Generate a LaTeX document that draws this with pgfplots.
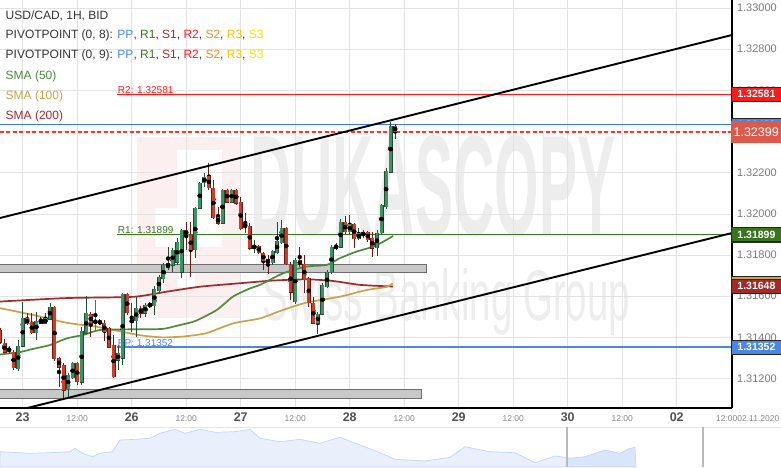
\documentclass[border=0pt]{standalone}
\usepackage{fontspec}
\setmainfont{Liberation Sans}
\usepackage{pgfplots}
\usepackage{pgfplotstable}
\pgfplotsset{compat=1.18}

\definecolor{ppblue}{HTML}{4A86E8}
\definecolor{rone}{HTML}{38761D}
\definecolor{sone}{HTML}{A52A2A}
\definecolor{rtwo}{HTML}{FF1A1A}
\definecolor{stwo}{HTML}{FF8C1A}
\definecolor{rthree}{HTML}{FFC000}
\definecolor{sthree}{HTML}{F2E200}
\definecolor{smaA}{HTML}{4E8A3E}
\definecolor{smaB}{HTML}{C9A24A}
\definecolor{smaC}{HTML}{A12A2A}
\definecolor{txt}{HTML}{333333}
\definecolor{tickc}{HTML}{7A7A7A}
\definecolor{gridc}{HTML}{E3E3E3}
\definecolor{bandfill}{HTML}{C8C8C8}
\definecolor{bandedge}{HTML}{6E6E6E}
\definecolor{cgreen}{HTML}{3F9162}
\definecolor{cred}{HTML}{CC3E2C}
\definecolor{wgreen}{HTML}{1F4D33}
\definecolor{wred}{HTML}{6E1A12}
\definecolor{bidred}{HTML}{DC5A4C}
\definecolor{lineblue}{HTML}{3C78D8}
\definecolor{wmpink}{HTML}{FCEFEF}
\definecolor{wmgray}{HTML}{EDEDED}
\definecolor{navfill}{HTML}{E9F0FC}
\definecolor{navfill2}{HTML}{D9E5FA}
\definecolor{navline}{HTML}{C5D5F3}

% hour index (0 = 23.10 00:00), open, high, low, close
\pgfplotstableread{
h O H L C
-3 1.31334 1.31358 1.31320 1.31348
-1 1.31246 1.31387 1.31237 1.31358
0 1.31358 1.31572 1.31353 1.31494
3 1.31421 1.31523 1.31387 1.31479
5 1.31469 1.31518 1.31465 1.31494
6 1.31489 1.31567 1.31484 1.31548
10 1.31149 1.31227 1.31110 1.31218
11 1.31203 1.31280 1.31198 1.31275
13 1.31183 1.31450 1.31169 1.31431
14 1.31421 1.31601 1.31417 1.31518
21 1.31290 1.31363 1.31242 1.31324
22 1.31300 1.31615 1.31266 1.31611
24 1.31469 1.31567 1.31426 1.31489
25 1.31479 1.31596 1.31402 1.31543
27 1.31518 1.31567 1.31499 1.31558
29 1.31553 1.31650 1.31509 1.31635
30 1.31625 1.31703 1.31620 1.31693
31 1.31684 1.31761 1.31664 1.31752
32 1.31742 1.31839 1.31727 1.31761
33 1.31752 1.31834 1.31717 1.31825
34 1.31766 1.31883 1.31752 1.31863
35 1.31717 1.31927 1.31688 1.31922
38 1.31825 1.32033 1.31786 1.32028
39 1.32028 1.32155 1.32023 1.32150
40 1.32150 1.32198 1.32131 1.32179
44 1.31955 1.32121 1.31950 1.32116
46 1.32057 1.32121 1.32052 1.32116
49 1.31936 1.32004 1.31907 1.31955
51 1.31829 1.31873 1.31810 1.31849
55 1.31761 1.31825 1.31752 1.31820
56 1.31810 1.31960 1.31805 1.31868
57 1.31858 1.31970 1.31853 1.31931
60 1.31572 1.31786 1.31562 1.31776
65 1.31469 1.31523 1.31417 1.31513
66 1.31513 1.31664 1.31509 1.31655
67 1.31645 1.31727 1.31640 1.31717
68 1.31717 1.31849 1.31708 1.31839
69 1.31834 1.31858 1.31825 1.31849
70 1.31839 1.31975 1.31834 1.31960
72 1.31912 1.31994 1.31902 1.31950
74 1.31878 1.31931 1.31873 1.31907
75 1.31893 1.31922 1.31883 1.31912
78 1.31834 1.31922 1.31795 1.31907
79 1.31907 1.32048 1.31902 1.32043
80 1.32033 1.32223 1.32023 1.32208
81 1.32203 1.32446 1.32198 1.32427
}\greentab

\pgfplotstableread{
h O H L C
-5 1.31436 1.31445 1.31368 1.31377
-4 1.31372 1.31392 1.31324 1.31329
-2 1.31329 1.31339 1.31242 1.31251
1 1.31494 1.31518 1.31460 1.31465
2 1.31474 1.31518 1.31417 1.31421
4 1.31484 1.31499 1.31465 1.31469
7 1.31548 1.31553 1.31285 1.31295
8 1.31300 1.31305 1.31159 1.31256
9 1.31266 1.31275 1.31096 1.31144
12 1.31275 1.31280 1.31169 1.31183
15 1.31513 1.31523 1.31402 1.31469
17 1.31479 1.31489 1.31460 1.31469
18 1.31469 1.31484 1.31382 1.31426
19 1.31445 1.31450 1.31348 1.31353
20 1.31363 1.31412 1.31203 1.31208
23 1.31611 1.31615 1.31509 1.31518
26 1.31543 1.31553 1.31494 1.31518
28 1.31567 1.31572 1.31543 1.31548
36 1.31922 1.31960 1.31825 1.31898
37 1.31898 1.31960 1.31693 1.31825
41 1.32184 1.32247 1.32116 1.32126
42 1.32126 1.32165 1.31975 1.31980
43 1.31984 1.32033 1.31945 1.31955
45 1.32116 1.32121 1.32052 1.32057
47 1.32116 1.32121 1.32043 1.32052
48 1.32057 1.32082 1.31922 1.31927
50 1.31941 1.31955 1.31825 1.31834
52 1.31844 1.31849 1.31805 1.31810
53 1.31810 1.31815 1.31727 1.31771
54 1.31781 1.31800 1.31708 1.31761
58 1.31931 1.31936 1.31752 1.31757
59 1.31752 1.31766 1.31582 1.31620
61 1.31776 1.31839 1.31742 1.31752
62 1.31757 1.31800 1.31615 1.31679
63 1.31688 1.31693 1.31548 1.31567
64 1.31567 1.31596 1.31465 1.31469
71 1.31960 1.31989 1.31902 1.31912
73 1.31950 1.31955 1.31834 1.31878
76 1.31912 1.31917 1.31863 1.31873
77 1.31883 1.31912 1.31791 1.31834
82 1.32427 1.32437 1.32364 1.32399
}\redtab

\pgfplotstableread{
h O H L C
16 1.31479 1.31582 1.31436 1.31474
}\dojitab

\newcommand{\candles}[3]{%
  \addplot[only marks, mark=none, forget plot,
    error bars/.cd, y dir=both, y explicit, error mark=none,
    error bar style={draw=#3, line width=0.9pt}]
    table[x=h, y expr={(\thisrow{H}+\thisrow{L})/2}, y error expr={(\thisrow{H}-\thisrow{L})/2}] {#1};
  \addplot[only marks, mark=none, forget plot,
    error bars/.cd, y dir=both, y explicit, error mark=none,
    error bar style={draw=#3, line width=4.0pt}]
    table[x=h, y expr={(\thisrow{O}+\thisrow{C})/2}, y error expr={abs(\thisrow{C}-\thisrow{O})/2+0.000014}] {#1};
  \addplot[only marks, mark=none, forget plot,
    error bars/.cd, y dir=both, y explicit, error mark=none,
    error bar style={draw=#2, line width=2.9pt}]
    table[x=h, y expr={(\thisrow{O}+\thisrow{C})/2}, y error expr={abs(\thisrow{C}-\thisrow{O})/2}] {#1};
}

\newcommand{\dl}[1]{{\fontsize{12.5}{12.5}\selectfont\bfseries\color[HTML]{505050}#1}}
\newcommand{\hl}[1]{{\fontsize{8.5}{9}\selectfont\color[HTML]{888888}#1}}

\tikzset{
  pbox/.style={anchor=west, fill=#1, draw=black!85, line width=0.8pt, text=white,
    font=\fontsize{10.5}{10.5}\selectfont\bfseries, minimum width=50pt, minimum height=14pt,
    inner sep=1pt, xshift=-1pt},
  leg/.style={anchor=west, inner sep=0pt, font=\fontsize{12}{12}\selectfont},
  lvl/.style={anchor=south west, inner sep=0.6pt, font=\fontsize{10}{10}\selectfont}
}

\begin{document}
\begin{tikzpicture}[x=1pt,y=1pt]
\path[use as bounding box] (0,0) rectangle (781,-467);

% watermark
\fill[wmpink] (137,-137) rectangle (240,-318);
\fill[white] (177,-150) rectangle (222,-208);
\fill[white] (155,-208) rectangle (222,-247);
\fill[white] (177,-247) rectangle (195,-287);
\node[anchor=north west, inner sep=0, text=wmgray] at (250,-135) {\resizebox{365pt}{100pt}{\bfseries DUKASCOPY}};
\node[anchor=north west, inner sep=0, text=wmgray] at (262,-268) {\resizebox{368pt}{52pt}{Swiss Banking Group}};

\begin{axis}[
  at={(0pt,0pt)}, anchor=north west, scale only axis,
  width=732pt, height=408pt,
  xmin=-4.998, xmax=156.17, ymin=1.310569, ymax=1.330389,
  axis x line*=bottom, axis y line*=right,
  axis line style={black, line width=1.3pt, -},
  clip mode=individual,
  xtick={0,12,...,156},
  xticklabels={{\dl{23}},{\hl{12:00}},{\dl{26}},{\hl{12:00}},{\dl{27}},{\hl{12:00}},{\dl{28}},{\hl{12:00}},{\dl{29}},{\hl{12:00}},{\dl{30}},{\hl{12:00}},{\dl{02}},{\hl{\hspace*{-9pt}12:00\rlap{02.11.2020}}}},
  xticklabel style={anchor=base, yshift=-13pt},
  ytick={1.312,1.314,1.316,1.318,1.320,1.322,1.324,1.326,1.328,1.330},
  scaled y ticks=false,
  yticklabel style={anchor=west, xshift=1.5pt, text=tickc, font=\fontsize{11}{11}\selectfont,
    /pgf/number format/.cd, fixed, fixed zerofill, precision=5, assume math mode=true},
  major tick length=0pt,
  grid=major, major grid style={draw=gridc, line width=0.7pt},
]
% support bands
\addplot[fill=bandfill, draw=bandedge, line width=1pt, forget plot]
  coordinates {(-6,1.31717) (89.0,1.31717) (89.0,1.31754) (-6,1.31754)} -- cycle;
\addplot[fill=bandfill, draw=bandedge, line width=1pt, forget plot]
  coordinates {(-6,1.31105) (87.8,1.31105) (87.8,1.31147) (-6,1.31147)} -- cycle;

% level lines
\addplot[draw={rgb,255:red,60;green,120;blue,216}, line width=1.1pt, forget plot] coordinates {(-5,1.32432) (156.17,1.32432)};
\addplot[draw={rgb,255:red,240;green,58;blue,46}, line width=1.6pt, dash pattern=on 4pt off 2.5pt, forget plot] coordinates {(-5,1.32399) (156.17,1.32399)};
\addplot[draw={rgb,255:red,255;green,26;blue,26}, line width=1.1pt, forget plot] coordinates {(20.8,1.32581) (156.17,1.32581)};
\addplot[draw={rgb,255:red,56;green,118;blue,29}, line width=1.1pt, forget plot] coordinates {(20.8,1.31899) (156.17,1.31899)};
\addplot[draw={rgb,255:red,74;green,134;blue,232}, line width=1.6pt, forget plot] coordinates {(20.8,1.31352) (156.17,1.31352)};

% moving averages
\addplot[smaC, line width=1.7pt, smooth, tension=0.4] coordinates {
(-5.0,1.31574)(9.7,1.31591)(24.3,1.31597)(31.7,1.31622)(39.0,1.31646)(47.8,1.31663)
(55.1,1.31676)(62.5,1.31682)(68.3,1.31674)(74.3,1.31655)(81.5,1.31647)};
\addplot[smaB, line width=1.7pt, smooth, tension=0.4] coordinates {
(-5.0,1.31542)(2.27,1.31509)(9.69,1.31471)(17.0,1.31449)(25.4,1.31412)(30.7,1.31400)
(35.7,1.31405)(40.5,1.31421)(46.3,1.31468)(52.2,1.31492)(57.3,1.31533)(62.5,1.31569)
(69.9,1.31598)(75.7,1.31630)(80.1,1.31645)(81.5,1.31662)};
\addplot[smaA, line width=1.7pt, smooth, tension=0.4] coordinates {
(-5.0,1.31317)(-0.59,1.31329)(2.27,1.31344)(6.01,1.31363)(9.69,1.31395)(13.34,1.31412)
(17.02,1.31436)(23.18,1.31439)(30.67,1.31441)(34.19,1.31458)(37.93,1.31479)(42.71,1.31533)
(46.30,1.31598)(50.04,1.31638)(52.24,1.31655)(57.31,1.31711)(62.53,1.31744)(66.93,1.31752)
(69.86,1.31785)(73.54,1.31817)(77.19,1.31841)(79.39,1.31865)(81.59,1.31893)};

% candles
\candles{\greentab}{cgreen}{wgreen}
\candles{\redtab}{cred}{wred}
\candles{\dojitab}{gray}{gray!80!black}

% channel
\addplot[black, line width=1.9pt] coordinates {(-5.0,1.31980) (156.17,1.32869)};
\addplot[black, line width=1.9pt] coordinates {(-5.0,1.31024) (156.17,1.31907)};

% level labels
\node[lvl, text=rtwo] at (axis cs:20.8,1.32581) {R2: 1.32581};
\node[lvl, text=rone] at (axis cs:20.8,1.31899) {R1: 1.31899};
\node[lvl, text=ppblue] at (axis cs:20.8,1.31352) {PP: 1.31352};

\coordinate (bR2) at (axis cs:156.17,1.32581);
\coordinate (bBL) at (axis cs:156.17,1.32432);
\coordinate (bBID) at (axis cs:156.17,1.32399);
\coordinate (bSMA50) at (axis cs:156.17,1.31893);
\coordinate (bR1) at (axis cs:156.17,1.31899);
\coordinate (bSMA100) at (axis cs:156.17,1.31662);
\coordinate (bSMA200) at (axis cs:156.17,1.31648);
\coordinate (bPP) at (axis cs:156.17,1.31352);
\end{axis}

% price boxes on the right
\node[pbox=rtwo] at (bR2) {1.32581};
\node[pbox=ppblue] at (bBL) {1.32432};
\node[anchor=west, fill=bidred, text=white, minimum width=50pt, minimum height=22pt, inner sep=1pt,
      xshift=-1pt, font=\fontsize{12.5}{12.5}\selectfont] at (bBID) {1.32399};
\node[pbox=smaA] at (bSMA50) {1.31893};
\node[pbox=rone] at (bR1) {1.31899};
\node[pbox=smaB] at (bSMA100) {1.31662};
\node[pbox=smaC] at (bSMA200) {1.31648};
\node[pbox=ppblue] at (bPP) {1.31352};

% legend text
\node[leg, text=txt] at (5.5,-15.7) {USD/CAD, 1H, BID};
\node[leg, text=txt] at (5.5,-35.7) {PIVOTPOINT (0, 8): \textcolor{ppblue}{PP}, \textcolor{rone}{R1}, \textcolor{sone}{S1}, \textcolor{rtwo}{R2}, \textcolor{stwo}{S2}, \textcolor{rthree}{R3}, \textcolor{sthree}{S3}};
\node[leg, text=txt] at (5.5,-55.3) {PIVOTPOINT (0, 9): \textcolor{ppblue}{PP}, \textcolor{rone}{R1}, \textcolor{sone}{S1}, \textcolor{rtwo}{R2}, \textcolor{stwo}{S2}, \textcolor{rthree}{R3}, \textcolor{sthree}{S3}};
\node[leg, text=smaA] at (5.5,-76) {SMA (50)};
\node[leg, text=smaB] at (5.5,-96) {SMA (100)};
\node[leg, text=smaC] at (5.5,-116) {SMA (200)};

% navigator
\draw[gray!20, line width=0.8pt] (0,-427) -- (781,-427);
\begin{axis}[
  at={(0pt,-427pt)}, anchor=north west, scale only axis,
  width=781pt, height=40pt, xmin=0, xmax=781, ymin=0, ymax=40,
  hide axis, clip=false]
\addplot[fill=navfill, draw=navline, line width=0.7pt] coordinates {
(0,15.3)(30,13.7)(50,14.3)(70,15.3)(75,18.7)(82.5,13.7)(92.5,10.3)(100,13.7)(112.5,15.3)
(120,27)(135,27.7)(150,28.7)(160,33.7)(175,37.7)(185,33.7)(200,37.7)(215,34.7)(235,35.3)
(250,37.7)(260,28.7)(280,25.3)(300,27.7)(320,23.7)(340,29.7)(360,22)(380,14.3)(395,7.7)
(425,6)(450,9.7)(465,20.3)(490,15.3)(515,14.3)(535,4.3)(555,11)(567,9.5)} \closedcycle;
\addplot[fill=navfill2, draw=navline, line width=0.7pt] coordinates {
(567,9.5)(570,8.7)(585,10.3)(605,17)(620,13.7)(628,18)(635,19.7)(636,0)} \closedcycle;
\end{axis}
\draw[gray!55, line width=1.3pt] (567,-427) -- (567,-467);
\draw[gray!55, line width=1.3pt] (703,-427) -- (703,-467);
\end{tikzpicture}
\end{document}
